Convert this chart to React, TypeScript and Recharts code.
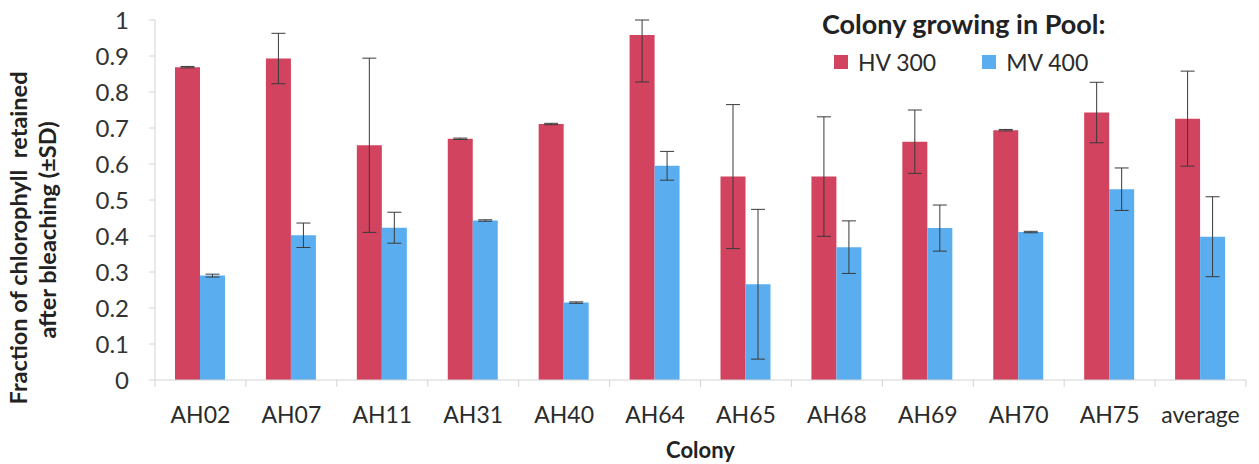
import { Bar, BarChart, ErrorBar, Legend, XAxis, YAxis } from 'recharts';

const colonies = ['AH02', 'AH07', 'AH11', 'AH31', 'AH40', 'AH64', 'AH65', 'AH68', 'AH69', 'AH70', 'AH75', 'average'];
const hv300 = [0.869, 0.893, 0.652, 0.67, 0.711, 0.958, 0.565, 0.565, 0.662, 0.694, 0.743, 0.726];
const hv300Sd: Array<number | [number, number]> = [0.002, 0.07, 0.242, 0.002, 0.002, [0.13, 0.042], 0.2, 0.166, 0.088, 0.002, 0.084, 0.132];
const mv400 = [0.29, 0.402, 0.423, 0.443, 0.215, 0.595, 0.266, 0.369, 0.422, 0.411, 0.53, 0.398];
const mv400Sd = [0.004, 0.034, 0.043, 0.002, 0.002, 0.04, 0.208, 0.073, 0.064, 0.002, 0.059, 0.111];
const yTicks = [0, 0.1, 0.2, 0.3, 0.4, 0.5, 0.6, 0.7, 0.8, 0.9, 1];

const data = colonies.map((name, i) => ({
	name,
	hv: hv300[i],
	hvSd: hv300Sd[i],
	mv: mv400[i],
	mvSd: mv400Sd[i]
}));

const FONT = 'Lato, "Open Sans", sans-serif';
const RED = '#d2435f';
const BLUE = '#5aaef0';
const AXIS = '#d4d4d4';

const WIDTH = 1259;
const HEIGHT = 464;
const LEFT = 155;
const RIGHT = 13;
const BAND = (WIDTH - LEFT - RIGHT) / colonies.length;

function ColonyTick(props: any) {
	const { x, y, payload, index } = props;
	const last = index === colonies.length - 1;
	return (
		<g>
			<line x1={x - BAND / 2} x2={x - BAND / 2} y1={y - 8} y2={y - 1} stroke={AXIS} />
			{last ? <line x1={x + BAND / 2} x2={x + BAND / 2} y1={y - 8} y2={y - 1} stroke={AXIS} /> : null}
			<text x={x} y={y + 35} textAnchor="middle" fill="#2b2b2b" fontSize={23} fontFamily={FONT}>
				{payload.value}
			</text>
		</g>
	);
}

function YTitle() {
	const style = { fontFamily: FONT, fontWeight: 700, fontSize: 23.5, fill: '#222', whiteSpace: 'pre' as const };
	return (
		<g>
			<text x={27} y={238} textAnchor="middle" transform="rotate(-90 27 238)" style={style}>
				{'Fraction of chlorophyll  retained'}
			</text>
			<text x={56} y={230} textAnchor="middle" transform="rotate(-90 56 230)" style={style}>
				after bleaching (±SD)
			</text>
		</g>
	);
}

function PoolLegend({ payload }: any) {
	return (
		<div style={{ fontFamily: FONT, color: '#222', whiteSpace: 'nowrap' }}>
			<div style={{ fontSize: 27, fontWeight: 700, lineHeight: '30px' }}>Colony growing in Pool:</div>
			<div style={{ display: 'flex', marginTop: 9, marginLeft: 12 }}>
				{(payload ?? []).map((entry: any) => (
					<div key={entry.value} style={{ display: 'flex', alignItems: 'center', marginRight: 46 }}>
						<span style={{ width: 14, height: 14, background: entry.color, marginRight: 10 }} />
						<span style={{ fontSize: 23, color: '#2b2b2b' }}>{entry.value}</span>
					</div>
				))}
			</div>
		</div>
	);
}

export default function App() {
	return (
		<div style={{ position: 'absolute', left: 0, top: 0, background: '#fff' }}>
			<BarChart
				width={WIDTH}
				height={HEIGHT}
				data={data}
				margin={{ top: 20, right: RIGHT, left: 0, bottom: 0 }}
				barCategoryGap={20}
				barGap={0}
			>
				<XAxis
					dataKey="name"
					height={84}
					stroke={AXIS}
					tickLine={false}
					tick={<ColonyTick />}
					interval={0}
					label={{
						value: 'Colony',
						position: 'insideBottom',
						offset: 6,
						fill: '#222',
						fontSize: 22,
						fontWeight: 700,
						fontFamily: FONT
					}}
				/>
				<YAxis
					width={LEFT}
					domain={[0, 1]}
					ticks={yTicks}
					allowDataOverflow
					stroke={AXIS}
					tickSize={6}
					tickMargin={20}
					tick={{ fill: '#333', fontSize: 24, fontFamily: FONT }}
					label={{ content: () => <YTitle /> }}
				/>
				<Legend
					layout="vertical"
					align="center"
					verticalAlign="middle"
					wrapperStyle={{ top: 9, left: 822, width: 'auto' }}
					content={<PoolLegend />}
				/>
				<Bar dataKey="hv" name="HV 300" fill={RED} isAnimationActive={false}>
					<ErrorBar dataKey="hvSd" width={7} stroke="#3a3a3a" strokeWidth={1} />
				</Bar>
				<Bar dataKey="mv" name="MV 400" fill={BLUE} isAnimationActive={false}>
					<ErrorBar dataKey="mvSd" width={7} stroke="#3a3a3a" strokeWidth={1} />
				</Bar>
			</BarChart>
		</div>
	);
}
